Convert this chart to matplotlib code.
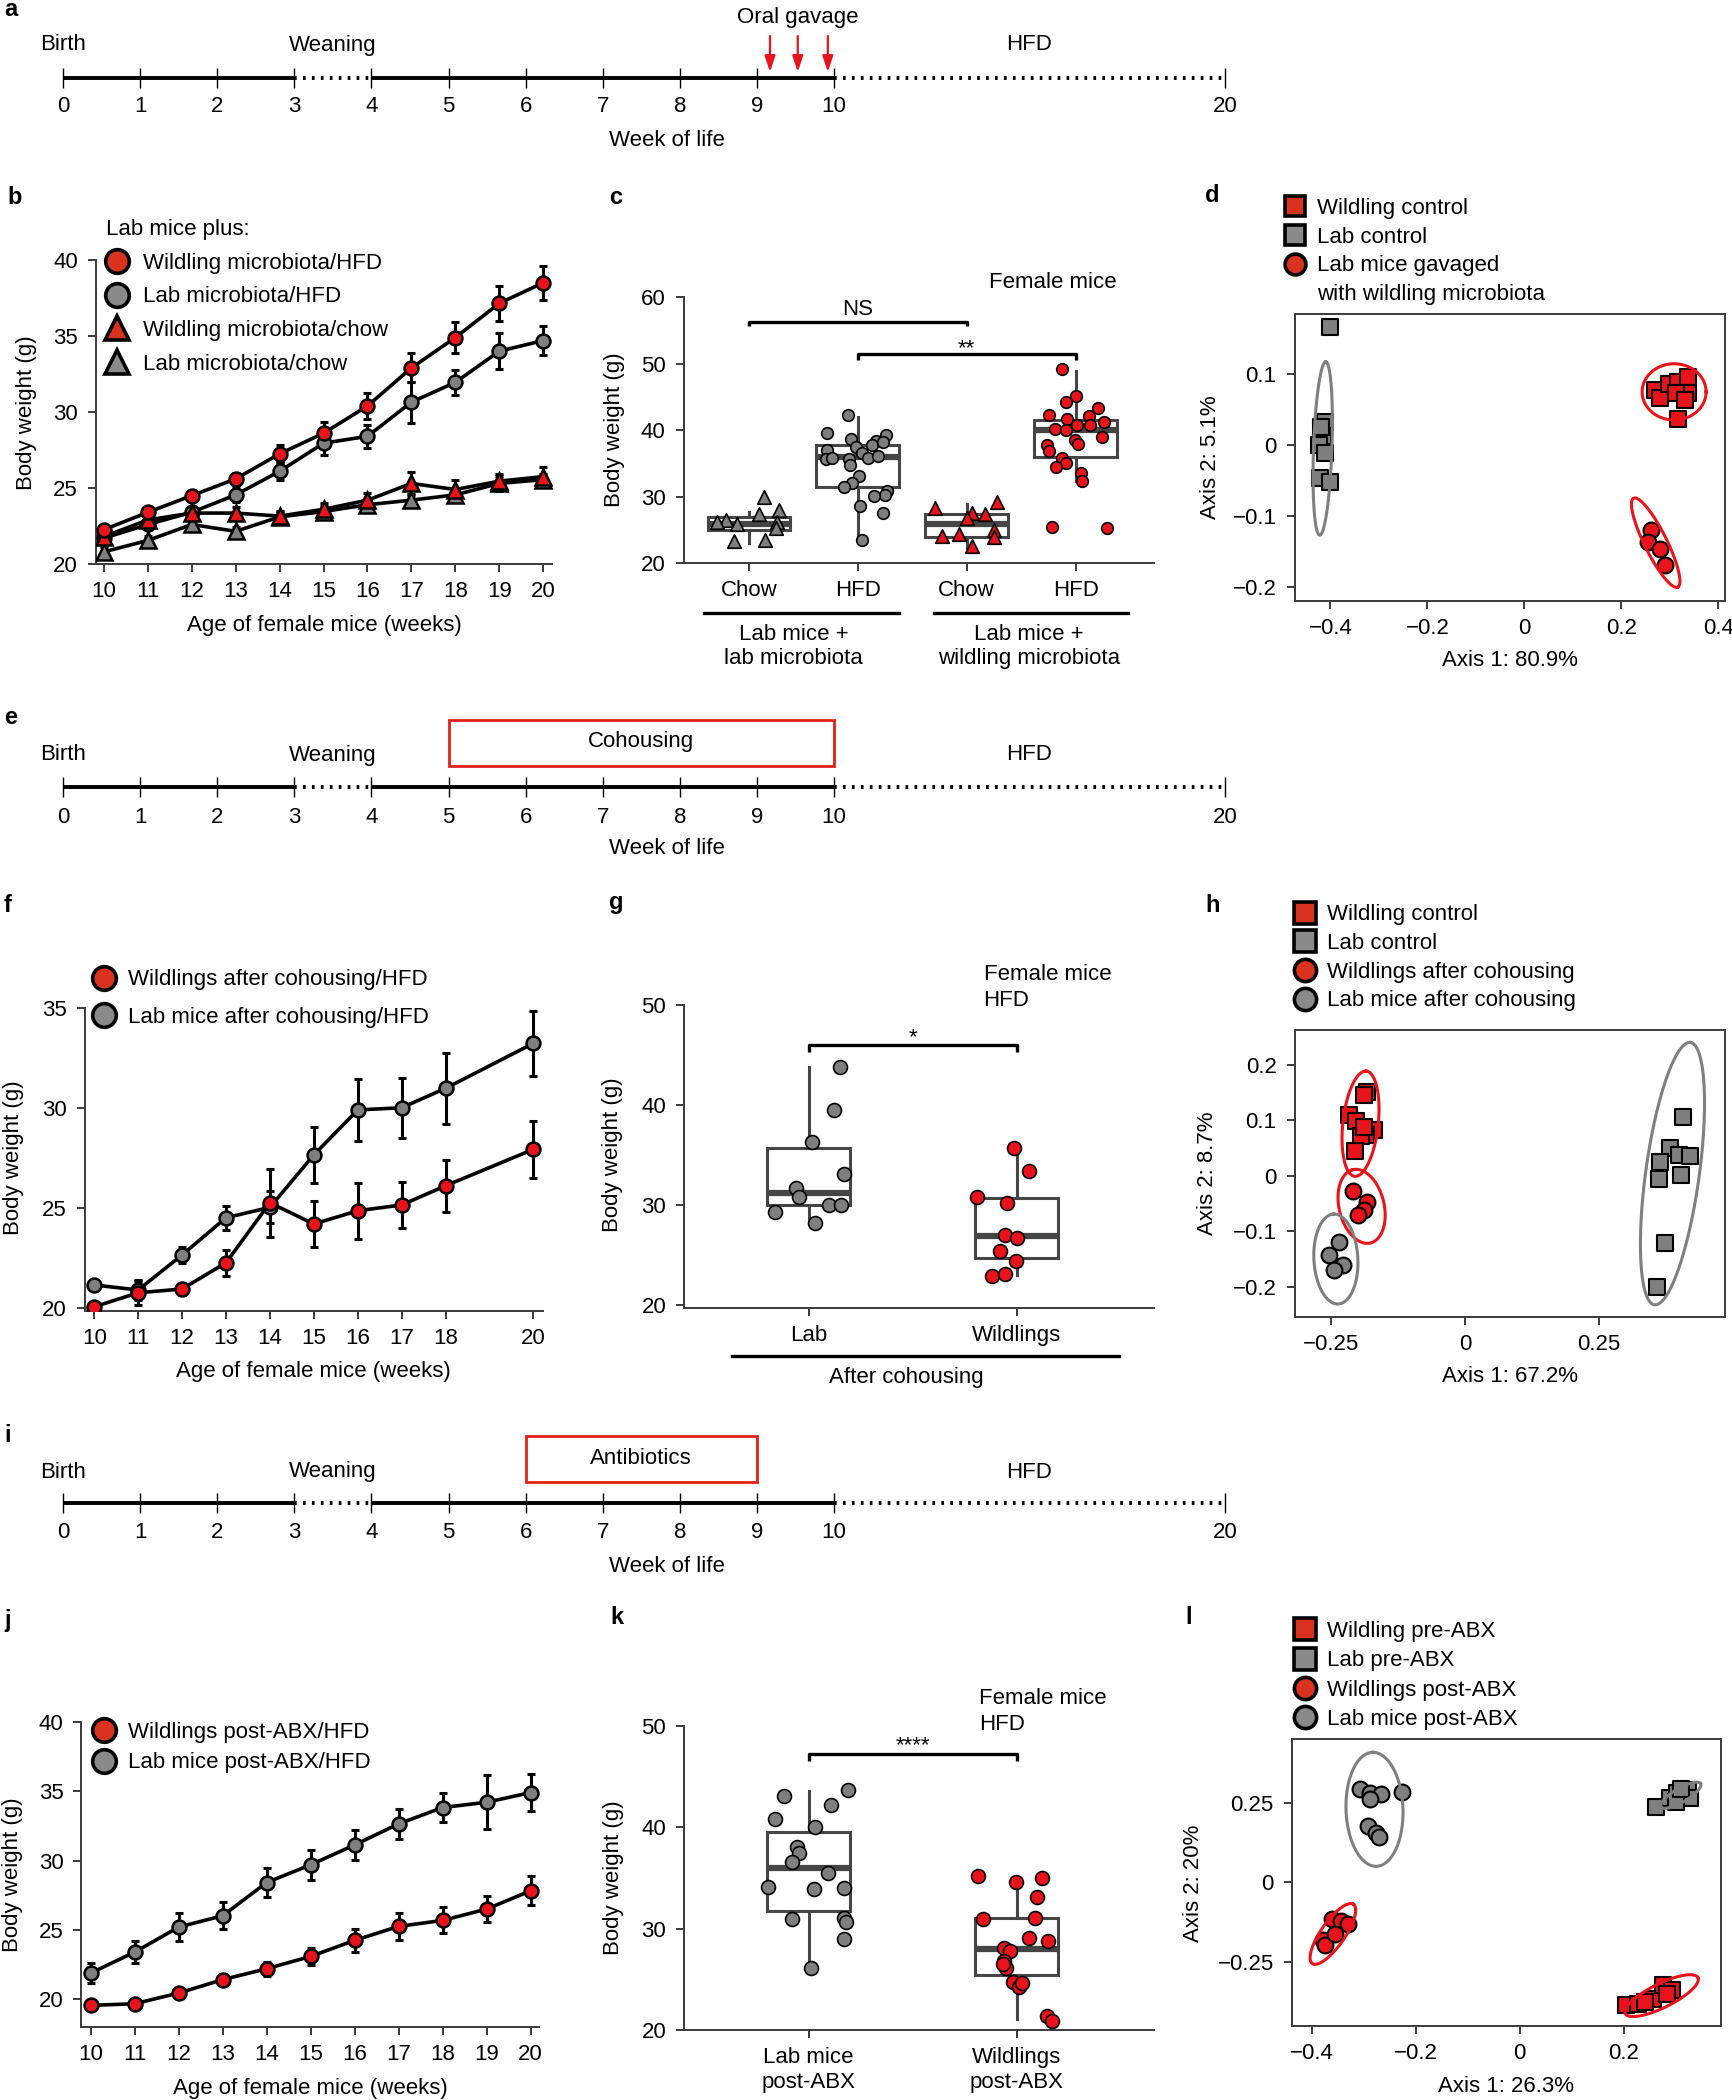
import numpy as np
import matplotlib
matplotlib.use('Agg')
import matplotlib.pyplot as plt
from matplotlib.lines import Line2D
from matplotlib.patches import Rectangle
from matplotlib.ticker import FuncFormatter

plt.rcParams['font.family'] = ['Liberation Sans', 'DejaVu Sans']
plt.rcParams['font.size'] = 16

W, H = 1733, 2100
RED = '#e8131b'
GREY = '#7f7f7f'
LRED = '#d9331f'
LGREY = '#8a8a8a'
BOXC = '#454545'
SPC = '#3a3a3a'

# ---------------- data ----------------
# timelines (a, e, i)
tl_ticks = [0, 1, 2, 3, 4, 5, 6, 7, 8, 9, 10, 20]
tl_solid = [(0, 3), (4, 10)]
tl_dotted = [(3, 4), (10, 20)]
tl_events = ['Birth', 'Weaning', 'HFD']
tl_event_weeks = [0, 3.5, 15]
gavage_weeks = [9.17, 9.53, 9.92]
cohousing = (5, 10)
antibiotics = (6, 9)

# b: body weight, gavage experiment
weeks = [10, 11, 12, 13, 14, 15, 16, 17, 18, 19, 20]
b_wild_hfd = [22.26, 23.4, 24.5, 25.6, 27.25, 28.6, 30.4, 32.9, 34.9, 37.15, 38.5]
b_wild_hfd_err = [0.25, 0.3, 0.35, 0.4, 0.6, 0.75, 0.85, 0.95, 1.05, 1.15, 1.1]
b_lab_hfd = [21.7, 22.6, 23.4, 24.55, 26.1, 27.95, 28.4, 30.65, 31.95, 34.0, 34.7]
b_lab_hfd_err = [0.3, 0.3, 0.3, 0.5, 0.6, 0.8, 0.75, 1.35, 0.8, 1.2, 0.95]
b_wild_chow = [21.8, 22.9, 23.35, 23.35, 23.15, 23.6, 24.2, 25.3, 24.9, 25.45, 25.75]
b_wild_chow_err = [0.3, 0.3, 0.3, 0.4, 0.35, 0.4, 0.5, 0.75, 0.6, 0.5, 0.6]
b_lab_chow = [20.8, 21.55, 22.6, 22.15, 23.1, 23.45, 23.9, 24.2, 24.55, 25.3, 25.55]
b_lab_chow_err = [0.3, 0.3, 0.3, 0.3, 0.3, 0.35, 0.35, 0.4, 0.4, 0.5, 0.4]
b_legend = ['Wildling microbiota/HFD', 'Lab microbiota/HFD',
            'Wildling microbiota/chow', 'Lab microbiota/chow']

# c: week-20 body weight per mouse
c_labels = ['Chow', 'HFD', 'Chow', 'HFD']
c_lab_chow = [30.0, 28.0, 27.4, 26.5, 26.1, 25.9, 26.1, 25.3, 23.3, 23.5]
c_lab_chow_dx = [0.138, 0.279, 0.095, -0.207, -0.289, -0.108, 0.259, 0.252, -0.134, 0.144]
c_lab_hfd = [42.2, 39.5, 38.7, 39.3, 38.3, 37.8, 37.5, 37.0, 38.2, 35.7, 35.8, 35.7, 36.5,
             35.8, 36.1, 34.7, 33.1, 32.1, 31.5, 30.9, 30.3, 30.1, 28.6, 27.5, 23.5]
c_lab_hfd_dx = [-0.092, -0.279, -0.066, 0.262, 0.164, 0.131, -0.016, -0.279, 0.230, -0.295,
                -0.239, -0.082, 0.039, 0.098, 0.187, -0.069, 0.007, -0.049, -0.125, 0.269,
                0.252, 0.148, 0.023, 0.230, 0.039]
c_wild_chow = [28.3, 29.1, 27.5, 27.3, 26.7, 25.0, 24.0, 24.4, 23.9, 22.5]
c_wild_chow_dx = [-0.289, 0.279, 0.049, 0.164, 0.0, 0.252, -0.230, -0.075, 0.252, 0.049]
c_wild_hfd = [49.1, 45.1, 44.2, 43.3, 42.2, 42.1, 41.6, 41.2, 40.2, 40.7, 40.7, 40.0,
              38.9, 38.5, 37.8, 37.9, 36.9, 35.8, 35.0, 34.4, 33.6, 32.3, 25.4, 25.3]
c_wild_hfd_dx = [-0.125, 0.0, -0.092, 0.203, -0.246, 0.121, -0.075, 0.259, -0.190, 0.016,
                 0.131, -0.092, 0.243, -0.010, -0.266, 0.023, -0.246, -0.125, -0.085,
                 -0.180, 0.049, 0.056, -0.213, 0.285]
# box stats: (q1, median, q3, whisker low, whisker high)
c_box = [(25.0, 25.8, 26.9, 23.0, 27.6), (31.5, 35.9, 37.7, 23.5, 42.0),
         (23.9, 25.8, 27.3, 22.3, 28.8), (35.9, 40.0, 41.5, 32.4, 48.8)]

# d: PCoA, gavage
d_wild_x = [0.269, 0.280, 0.298, 0.316, 0.338, 0.338, 0.313, 0.331, 0.316]
d_wild_y = [0.077, 0.066, 0.086, 0.089, 0.096, 0.073, 0.073, 0.063, 0.037]
d_lab_x = [-0.400, -0.412, -0.416, -0.423, -0.412, -0.421, -0.401, -0.420]
d_lab_y = [0.167, 0.033, 0.012, 0.000, -0.012, -0.047, -0.052, 0.026]
d_gav_x = [0.262, 0.255, 0.280, 0.291]
d_gav_y = [-0.120, -0.137, -0.147, -0.169]
# ellipses: (cx, cy, semi-major, semi-minor, angle, colour)
d_ell = [(-0.416, -0.005, 0.179, 0.019, 88, GREY), (0.309, 0.075, 0.066, 0.058, 0, RED),
         (0.271, -0.138, 0.1025, 0.023, -63.6, RED)]

# f: cohousing growth curves
f_weeks = [10, 11, 12, 13, 14, 15, 16, 17, 18, 20]
f_wild = [20.08, 20.78, 20.97, 22.28, 25.28, 24.22, 24.88, 25.17, 26.13, 27.95]
f_wild_err = [0.2, 0.6, 0.3, 0.65, 1.7, 1.17, 1.4, 1.17, 1.3, 1.42]
f_lab = [21.17, 20.92, 22.67, 24.53, 25.05, 27.67, 29.92, 30.03, 31.0, 33.25]
f_lab_err = [0.2, 0.5, 0.4, 0.6, 0.8, 1.4, 1.55, 1.5, 1.78, 1.62]

# g: after cohousing
g_lab = [43.83, 39.5, 36.33, 33.07, 31.67, 30.77, 30.0, 30.0, 29.33, 28.17]
g_lab_dx = [0.151, 0.124, 0.014, 0.172, -0.060, -0.046, 0.098, 0.155, -0.163, 0.029]
g_wild = [35.67, 33.4, 30.83, 30.17, 27.0, 26.67, 25.43, 24.43, 22.93, 23.1]
g_wild_dx = [-0.014, 0.058, -0.189, -0.048, -0.057, 0.003, -0.082, -0.002, -0.120, -0.057]
g_box = [(30.0, 31.23, 35.67, 28.2, 43.77), (24.67, 26.9, 30.67, 23.0, 35.67)]

# h: PCoA, cohousing
h_wild_x = [-0.183, -0.188, -0.216, -0.203, -0.170, -0.184, -0.195, -0.205, -0.189]
h_wild_y = [0.152, 0.146, 0.109, 0.099, 0.082, 0.073, 0.072, 0.045, 0.088]
h_lab_x = [0.406, 0.382, 0.363, 0.399, 0.419, 0.403, 0.361, 0.373, 0.358]
h_lab_y = [0.106, 0.051, 0.025, 0.037, 0.035, 0.002, -0.006, -0.121, -0.200]
h_wildco_x = [-0.209, -0.183, -0.189, -0.199]
h_wildco_y = [-0.027, -0.047, -0.062, -0.071]
h_labco_x = [-0.236, -0.254, -0.228, -0.244]
h_labco_y = [-0.119, -0.143, -0.161, -0.169]
h_ell = [(-0.195, 0.094, 0.0987, 0.033, 83.7, RED), (-0.193, -0.055, 0.0703, 0.042, 103.5, RED),
         (-0.241, -0.150, 0.084, 0.041, 93, GREY), (0.387, 0.004, 0.247, 0.050, 82.2, GREY)]

# j: antibiotics growth curves
j_wild = [19.54, 19.66, 20.43, 21.40, 22.19, 23.08, 24.24, 25.25, 25.68, 26.50, 27.82]
j_wild_err = [0.3, 0.3, 0.35, 0.4, 0.5, 0.6, 0.84, 0.96, 0.94, 0.94, 1.05]
j_lab = [21.88, 23.39, 25.20, 26.02, 28.42, 29.70, 31.14, 32.66, 33.84, 34.22, 34.92]
j_lab_err = [0.7, 0.8, 1.0, 0.96, 1.06, 1.1, 1.08, 1.07, 1.08, 1.95, 1.32]

# k: post-ABX
k_lab = [43.68, 43.09, 42.2, 40.82, 40.07, 38.09, 37.5, 36.61, 35.46, 34.08, 33.88, 33.98,
         30.95, 31.02, 30.69, 28.98, 26.15]
k_lab_dx = [0.189, -0.117, 0.108, -0.160, 0.029, -0.055, -0.046, -0.081, 0.091, -0.194,
            0.026, 0.172, -0.082, 0.172, 0.180, 0.172, 0.012]
k_wild = [35.23, 34.97, 34.57, 33.16, 30.92, 31.09, 29.05, 28.78, 28.06, 27.83, 26.81,
          26.09, 26.48, 24.77, 24.28, 24.6, 21.38, 20.92]
k_wild_dx = [-0.185, 0.120, -0.002, 0.098, -0.163, 0.086, 0.058, 0.149, -0.062, -0.034,
             -0.060, -0.053, -0.065, -0.017, 0.012, 0.024, 0.146, 0.172]
k_box = [(31.74, 36.02, 39.57, 26.15, 43.59), (25.43, 27.96, 31.02, 21.05, 34.31)]

# l: PCoA, antibiotics
l_wild_x = [0.205, 0.228, 0.256, 0.276, 0.293, 0.283, 0.242]
l_wild_y = [-0.384, -0.381, -0.366, -0.321, -0.337, -0.348, -0.374]
l_lab_x = [0.262, 0.289, 0.303, 0.323, 0.327, 0.300, 0.310]
l_lab_y = [0.237, 0.263, 0.279, 0.289, 0.263, 0.253, 0.294]
l_wildabx_x = [-0.360, -0.344, -0.329, -0.378, -0.374, -0.355]
l_wildabx_y = [-0.115, -0.120, -0.130, -0.181, -0.196, -0.160]
l_lababx_x = [-0.307, -0.287, -0.266, -0.226, -0.287, -0.292, -0.277, -0.270]
l_lababx_y = [0.291, 0.281, 0.276, 0.282, 0.260, 0.176, 0.156, 0.141]
l_ell = [(-0.279, 0.229, 0.1096, 0.0548, 92, GREY), (0.31, 0.273, 0.044, 0.0135, 30.5, GREY),
         (-0.359, -0.161, 0.0694, 0.023, 55.2, RED), (0.273, -0.354, 0.078, 0.023, 26.3, RED)]

# ---------------- helpers ----------------
fig = plt.figure(figsize=(W / 100, H / 100), dpi=100)
FPX = 16 * 100 / 72


def px_axes(l, t, r, b):
    return fig.add_axes([l / W, 1 - b / H, (r - l) / W, (b - t) / H])


def ftext(x, y, s, **kw):
    kw.setdefault('ha', 'center')
    kw.setdefault('va', 'center')
    kw.setdefault('fontsize', 16)
    fig.text(x / W, 1 - y / H, s, **kw)


def fline(x1, x2, y):
    fig.add_artist(Line2D([x1 / W, x2 / W], [1 - y / H] * 2, color='k', lw=2.4))


def style(ax, box=False):
    for side in ['top', 'right']:
        ax.spines[side].set_visible(box)
    for sp in ax.spines.values():
        sp.set_color(SPC)
        sp.set_linewidth(1.4)
    ax.tick_params(direction='out', length=5.5, width=1.4, color=SPC, labelsize=16)
    ax.tick_params(axis='x', pad=7)
    ax.tick_params(axis='y', pad=7.5)


def labels(ax, xlabel=None, xpos=None, ylabel=None, ypos=None):
    if xlabel:
        ax.set_xlabel(xlabel, fontsize=16, va='center')
        ax.xaxis.set_label_coords(xpos[0] / W, 1 - xpos[1] / H, transform=fig.transFigure)
    if ylabel:
        ax.set_ylabel(ylabel, fontsize=16, va='center')
        ax.yaxis.set_label_coords(ypos[0] / W, 1 - ypos[1] / H, transform=fig.transFigure)


def legend(ax, handles, names, x_mark, y_first, step, x_text, title=None):
    left = x_mark - FPX / 2
    top = y_first - 0.4 * FPX
    if title:
        top -= step
    ax.legend(handles, names, loc='upper left', bbox_to_anchor=(left / W, 1 - top / H),
              bbox_transform=fig.transFigure, frameon=False, borderpad=0, borderaxespad=0,
              handlelength=1.0, handletextpad=(x_text - left - FPX) / FPX,
              labelspacing=step / FPX - 0.96, fontsize=16, title=title,
              title_fontsize=16, alignment='left')


def handle(marker, face, ms):
    return Line2D([], [], ls='none', marker=marker, ms=ms, mfc=face, mec='k', mew=2.6)


def growth(ax, x, y, err, face, marker):
    ax.errorbar(x, y, yerr=err, fmt='none', ecolor='k', elinewidth=2.2,
                capsize=3, capthick=2.2, zorder=2)
    ax.plot(x, y, color='k', lw=2.6, marker=marker, ms=10 if marker == 'o' else 11,
            mfc=face, mec='k', mew=1.8, zorder=3)


def boxes(ax, stats, width):
    bx = [dict(q1=s[0], med=s[1], q3=s[2], whislo=s[3], whishi=s[4], fliers=[]) for s in stats]
    ax.bxp(bx, positions=range(1, len(bx) + 1), widths=width, showcaps=False,
           showfliers=False, patch_artist=True, manage_ticks=False,
           boxprops=dict(facecolor='white', edgecolor=BOXC, lw=2.2),
           medianprops=dict(color=BOXC, lw=4.5, solid_capstyle='butt'),
           whiskerprops=dict(color=BOXC, lw=2.2), zorder=2)


def dots(ax, pos, dx, vals, face, marker='o', s=70):
    ax.scatter(pos + np.asarray(dx), vals, s=s, c=face, marker=marker,
               edgecolors='k', linewidths=1.2, zorder=3, clip_on=False)


def bracket(ax, x1, x2, y, drop, text, off):
    ax.plot([x1, x1, x2, x2], [y - drop, y, y, y - drop], color='k', lw=2.4,
            solid_capstyle='butt', clip_on=False)
    ax.annotate(text, xy=((x1 + x2) / 2, y), xytext=(0, off), textcoords='offset points',
                ha='center', va='baseline', fontsize=16)


def fmt_tick(v, _pos=None):
    return '0' if abs(v) < 1e-9 else ('%g' % v).replace('-', '\u2212')


def pcoa(l, t, r, b, xlim, ylim, xticks, yticks):
    ax = px_axes(l, t, r, b)
    style(ax, box=True)
    ax.set_xlim(xlim)
    ax.set_ylim(ylim)
    ax.set_xticks(xticks)
    ax.set_yticks(yticks)
    ax.xaxis.set_major_formatter(FuncFormatter(fmt_tick))
    ax.yaxis.set_major_formatter(FuncFormatter(fmt_tick))
    k = ((b - t) / (ylim[1] - ylim[0])) / ((r - l) / (xlim[1] - xlim[0]))
    return ax, k


def ellipses(ax, k, ells):
    t = np.linspace(0, 2 * np.pi, 200)
    for cx, cy, a, bb, ang, col in ells:
        p = np.radians(ang)
        ex = a * np.cos(t) * np.cos(p) - bb * np.sin(t) * np.sin(p)
        ey = a * np.cos(t) * np.sin(p) + bb * np.sin(t) * np.cos(p)
        ax.plot(cx + ex, cy + ey / k, color=col, lw=2.2, zorder=4)


def pts(ax, x, y, face, marker):
    ax.scatter(x, y, s=130, c=face, marker=marker, edgecolors='k', linewidths=1.5, zorder=3)


PXW = 77.1


def tl_pos(w):
    return w if w <= 10 else 10 + (w - 10) * 0.507


def timeline(top, height, line_y, tick_y, week_y, event_y):
    ax = px_axes(0, top, 1300, top + height)
    x0 = -63 / PXW
    ax.set_xlim(x0, x0 + 1300 / PXW)
    ax.set_ylim(height, 0)
    ax.axis('off')
    for s, e in tl_solid:
        ax.plot([tl_pos(s), tl_pos(e)], [line_y, line_y], color='k', lw=2.8,
                solid_capstyle='butt')
    for s, e in tl_dotted:
        ax.plot([tl_pos(s), tl_pos(e)], [line_y, line_y], color='k', lw=2.8,
                ls=(0, (0.7, 1.6)))
    ax.vlines([tl_pos(w) for w in tl_ticks], line_y - 10, line_y + 10, color='k', lw=1)
    for w in tl_ticks:
        ax.text(tl_pos(w), tick_y, str(w), ha='center', va='center', fontsize=16)
    ax.text(x0 + 667 / PXW, week_y, 'Week of life', ha='center', va='center', fontsize=16)
    for name, w in zip(tl_events, tl_event_weeks):
        ax.text(tl_pos(w), event_y, name, ha='center', va='center', fontsize=16)
    return ax


# ---------------- a ----------------
ax = timeline(0, 160, 78, 106, 141, 45)
ax.text(tl_pos(gavage_weeks[1]), 17, 'Oral gavage', ha='center', va='center', fontsize=16)
for w in gavage_weeks:
    ax.annotate('', xy=(tl_pos(w), 72), xytext=(tl_pos(w), 36),
                arrowprops=dict(arrowstyle='-|>,head_length=0.6,head_width=0.2', color=RED,
                                lw=1.6, shrinkA=0, shrinkB=0))

# ---------------- b ----------------
ax = px_axes(96, 260, 552, 564)
style(ax)
ax.set_xlim(9.82, 20.2)
ax.set_ylim(20, 40)
ax.set_xticks(weeks)
ax.set_yticks([20, 25, 30, 35, 40])
growth(ax, weeks, b_lab_hfd, b_lab_hfd_err, GREY, 'o')
growth(ax, weeks, b_lab_chow, b_lab_chow_err, GREY, '^')
growth(ax, weeks, b_wild_chow, b_wild_chow_err, RED, '^')
growth(ax, weeks, b_wild_hfd, b_wild_hfd_err, RED, 'o')
labels(ax, 'Age of female mice (weeks)', (324, 625), 'Body weight (g)', (27, 413))
legend(ax, [handle('o', LRED, 17), handle('o', LGREY, 17), handle('^', LRED, 17),
            handle('^', LGREY, 17)], b_legend, 117, 262, 34, 143, title='Lab mice plus:')

# ---------------- c ----------------
ax = px_axes(683.6, 297, 1154, 563)
style(ax)
ax.set_xlim(0.4, 4.72)
ax.set_ylim(20, 60)
ax.set_yticks([20, 30, 40, 50, 60])
ax.set_xticks([1, 2, 3, 4], c_labels)
boxes(ax, c_box, 0.76)
dots(ax, 1, c_lab_chow_dx, c_lab_chow, GREY, '^', 95)
dots(ax, 2, c_lab_hfd_dx, c_lab_hfd, GREY)
dots(ax, 3, c_wild_chow_dx, c_wild_chow, RED, '^', 95)
dots(ax, 4, c_wild_hfd_dx, c_wild_hfd, RED)
bracket(ax, 1, 3, 56.3, 0.7, 'NS', 5)
bracket(ax, 2, 4, 51.4, 0.8, '**', 0)
labels(ax, ylabel='Body weight (g)', ypos=(614.6, 430))
fline(704, 899, 612.7)
fline(934, 1128, 612.7)
ftext(793.6, 646.5, 'Lab mice +\nlab microbiota')
ftext(1029, 646.5, 'Lab mice +\nwildling microbiota')
ftext(1053, 282, 'Female mice')

# ---------------- d ----------------
ax, k = pcoa(1294.6, 314, 1725, 600.7, (-0.474, 0.414), (-0.22, 0.185),
             [-0.4, -0.2, 0, 0.2, 0.4], [-0.2, -0.1, 0, 0.1])
pts(ax, d_lab_x, d_lab_y, GREY, 's')
pts(ax, d_wild_x, d_wild_y, RED, 's')
pts(ax, d_gav_x, d_gav_y, RED, 'o')
ellipses(ax, k, d_ell)
labels(ax, 'Axis 1: 80.9%', (1509.8, 660), 'Axis 2: 5.1%', (1210, 456.7))
legend(ax, [handle('s', LRED, 15), handle('s', LGREY, 15), handle('o', LRED, 15),
            Line2D([], [], ls='none')],
       ['Wildling control', 'Lab control', 'Lab mice gavaged', 'with wildling microbiota'],
       1294.6, 207, 29, 1317)

# ---------------- e ----------------
ax = timeline(700, 170, 87, 117, 148, 55)
ax.add_patch(Rectangle((tl_pos(cohousing[0]), 20), tl_pos(cohousing[1]) - tl_pos(cohousing[0]),
                       46, fill=False, ec='#e0201b', lw=2))
ax.text((tl_pos(cohousing[0]) + tl_pos(cohousing[1])) / 2, 42, 'Cohousing', ha='center',
        va='center', fontsize=16)

# ---------------- f ----------------
ax = px_axes(85, 1008.3, 542.6, 1311)
style(ax)
ax.set_xlim(9.79, 20.21)
ax.set_ylim(19.87, 35)
ax.set_xticks(f_weeks)
ax.set_yticks([20, 25, 30, 35])
growth(ax, f_weeks, f_lab, f_lab_err, GREY, 'o')
growth(ax, f_weeks, f_wild, f_wild_err, RED, 'o')
labels(ax, 'Age of female mice (weeks)', (313, 1371.7), 'Body weight (g)', (14, 1158))
legend(ax, [handle('o', LRED, 17), handle('o', LGREY, 17)],
       ['Wildlings after cohousing/HFD', 'Lab mice after cohousing/HFD'],
       103.7, 978.3, 37.7, 127.8)

# ---------------- g ----------------
ax = px_axes(684.3, 1005, 1154, 1307.7)
style(ax)
ax.set_xlim(0.402, 2.66)
ax.set_ylim(19.73, 50)
ax.set_yticks([20, 30, 40, 50])
ax.set_xticks([1, 2], ['Lab', 'Wildlings'])
boxes(ax, g_box, 0.40)
dots(ax, 1, g_lab_dx, g_lab, GREY, s=100)
dots(ax, 2, g_wild_dx, g_wild, RED, s=100)
bracket(ax, 1, 2, 46.0, 0.67, '*', 1)
labels(ax, ylabel='Body weight (g)', ypos=(612.9, 1155))
fline(731.8, 1119.3, 1356)
ftext(906.8, 1377.3, 'After cohousing')
ftext(983.6, 975, 'Female mice', ha='left')
ftext(983.6, 1000.7, 'HFD', ha='left')

# ---------------- h ----------------
ax, k = pcoa(1294.6, 1030, 1725, 1316.7, (-0.318, 0.485), (-0.254, 0.263),
             [-0.25, 0, 0.25], [-0.2, -0.1, 0, 0.1, 0.2])
pts(ax, h_lab_x, h_lab_y, GREY, 's')
pts(ax, h_wild_x, h_wild_y, RED, 's')
pts(ax, h_labco_x, h_labco_y, GREY, 'o')
pts(ax, h_wildco_x, h_wildco_y, RED, 'o')
ellipses(ax, k, h_ell)
labels(ax, 'Axis 1: 67.2%', (1509.8, 1376.7), 'Axis 2: 8.7%', (1208, 1173))
legend(ax, [handle('s', LRED, 16), handle('s', LGREY, 16), handle('o', LRED, 16),
            handle('o', LGREY, 16)],
       ['Wildling control', 'Lab control', 'Wildlings after cohousing',
        'Lab mice after cohousing'], 1305.2, 913.3, 29, 1327.4)

# ---------------- i ----------------
ax = timeline(1420, 170, 83, 112, 147, 52)
ax.add_patch(Rectangle((tl_pos(antibiotics[0]), 16),
                       tl_pos(antibiotics[1]) - tl_pos(antibiotics[0]), 46,
                       fill=False, ec='#e0201b', lw=2))
ax.text((tl_pos(antibiotics[0]) + tl_pos(antibiotics[1])) / 2, 39, 'Antibiotics',
        ha='center', va='center', fontsize=16)

# ---------------- j ----------------
ax = px_axes(81.5, 1722.3, 538.9, 2026.7)
style(ax)
ax.set_xlim(9.79, 20.19)
ax.set_ylim(18.0, 40)
ax.set_xticks(weeks)
ax.set_yticks([20, 25, 30, 35, 40])
growth(ax, weeks, j_lab, j_lab_err, GREY, 'o')
growth(ax, weeks, j_wild, j_wild_err, RED, 'o')
labels(ax, 'Age of female mice (weeks)', (310.4, 2088.3), 'Body weight (g)', (13, 1875))
legend(ax, [handle('o', LRED, 17), handle('o', LGREY, 17)],
       ['Wildlings post-ABX/HFD', 'Lab mice post-ABX/HFD'], 103.7, 1731, 30.7, 127.8)

# ---------------- k ----------------
ax = px_axes(684.3, 1726, 1154, 2030)
style(ax)
ax.set_xlim(0.402, 2.66)
ax.set_ylim(20, 50)
ax.set_yticks([20, 30, 40, 50])
ax.set_xticks([1, 2], ['Lab mice\npost-ABX', 'Wildlings\npost-ABX'])
boxes(ax, k_box, 0.40)
dots(ax, 1, k_lab_dx, k_lab, GREY, s=100)
dots(ax, 2, k_wild_dx, k_wild, RED, s=100)
bracket(ax, 1, 2, 47.24, 0.74, '****', 2)
labels(ax, ylabel='Body weight (g)', ypos=(614, 1878))
ftext(979.3, 1698.3, 'Female mice', ha='left')
ftext(979.3, 1725, 'HFD', ha='left')

# ---------------- l ----------------
ax, k = pcoa(1291.8, 1739.3, 1721.4, 2026, (-0.438, 0.388), (-0.449, 0.448),
             [-0.4, -0.2, 0, 0.2], [-0.25, 0, 0.25])
pts(ax, l_lab_x, l_lab_y, GREY, 's')
pts(ax, l_wild_x, l_wild_y, RED, 's')
pts(ax, l_lababx_x, l_lababx_y, GREY, 'o')
pts(ax, l_wildabx_x, l_wildabx_y, RED, 'o')
ellipses(ax, k, l_ell)
labels(ax, 'Axis 1: 26.3%', (1506.3, 2086.7), 'Axis 2: 20%', (1194, 1883))
legend(ax, [handle('s', LRED, 16), handle('s', LGREY, 16), handle('o', LRED, 16),
            handle('o', LGREY, 16)],
       ['Wildling pre-ABX', 'Lab pre-ABX', 'Wildlings post-ABX', 'Lab mice post-ABX'],
       1305.2, 1630, 29.7, 1327.4)

# ---------------- panel letters ----------------
for letter, x, y in [('a', 4, 10), ('b', 7, 197), ('c', 609, 197), ('d', 1205, 195),
                     ('e', 4, 717), ('f', 4, 905), ('g', 609, 902), ('h', 1205, 905),
                     ('i', 4, 1435), ('j', 4, 1620), ('k', 610, 1618), ('l', 1185, 1618)]:
    ftext(x, y, letter, ha='left', fontsize=17, fontweight='bold')

fig.savefig('out.png', dpi=100)
